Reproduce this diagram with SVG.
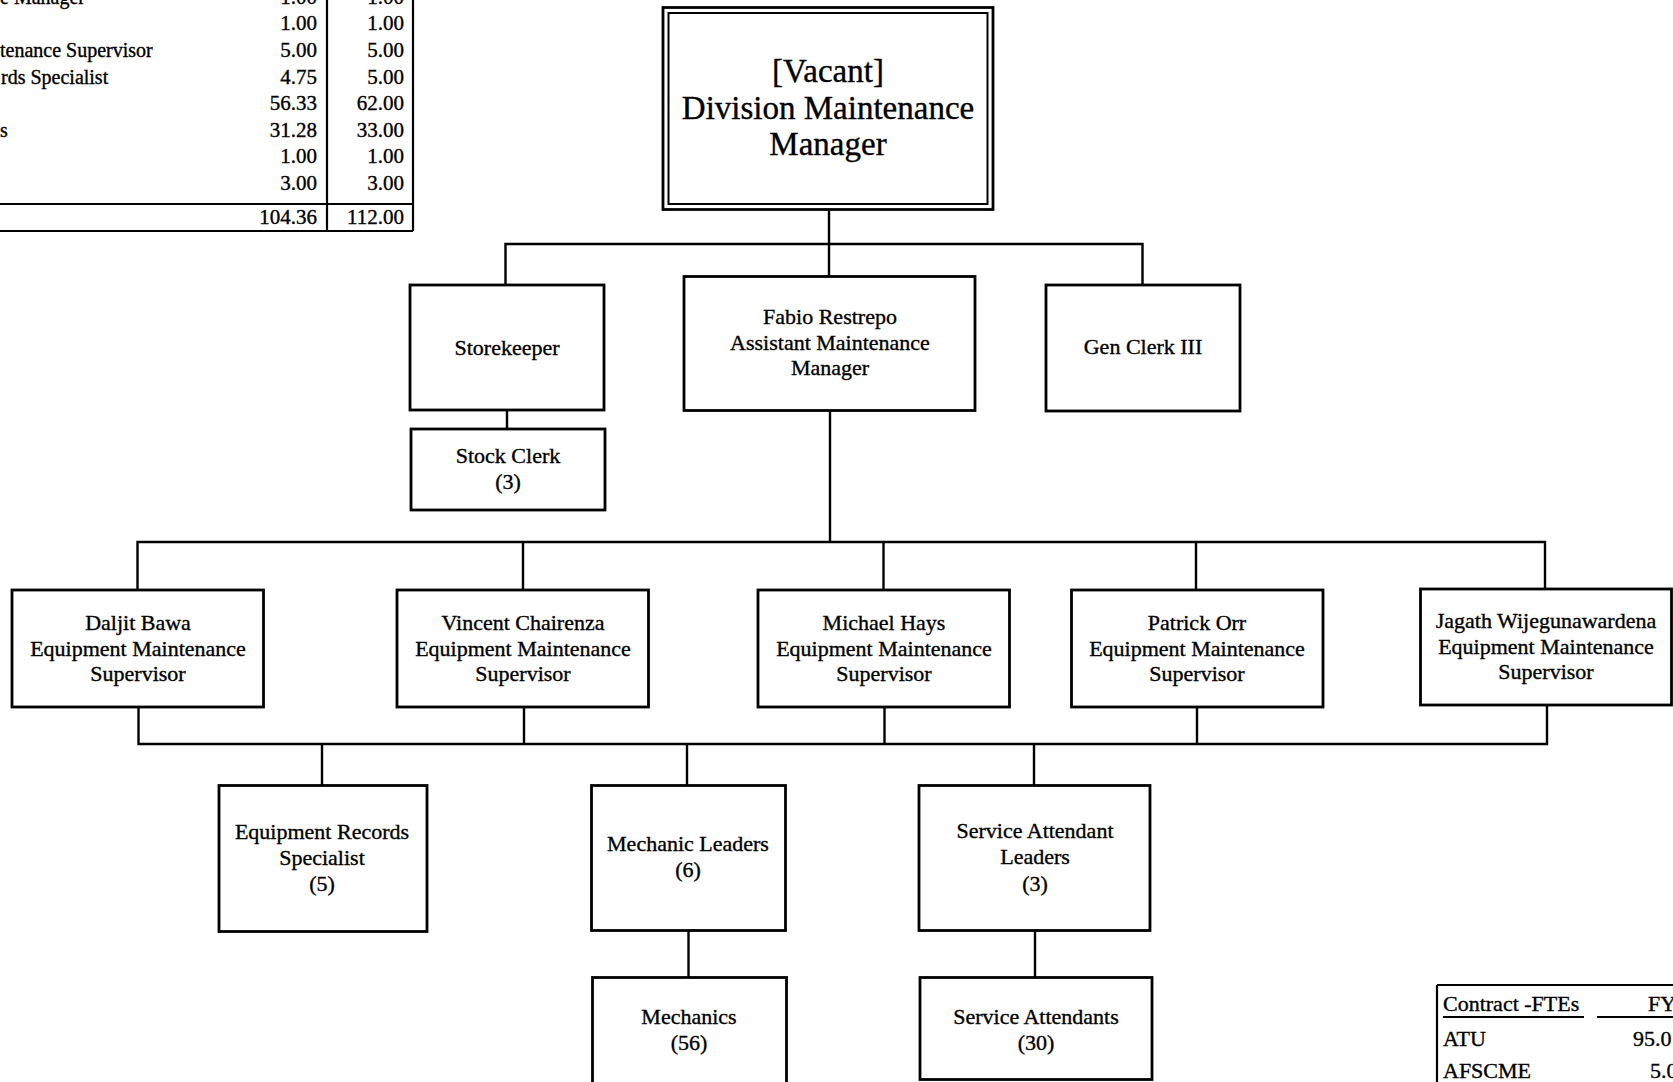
<svg xmlns="http://www.w3.org/2000/svg" width="1673" height="1082" viewBox="0 0 1673 1082">
<style>
text{font-family:"Liberation Serif","Times New Roman",serif;fill:#000;stroke:#000;stroke-width:0.35}
.n{font-size:22px;text-anchor:middle}
.t{font-size:21px}
.l{font-size:20px}
.c{font-size:22px}
.r{font-size:21px;text-anchor:end}
.big{font-size:33px;text-anchor:middle}
.box{fill:#fff;stroke:#000;stroke-width:2.8}
.ln{stroke:#000;stroke-width:2.4;fill:none}
.tb{stroke:#000;stroke-width:2.2;fill:none}
</style>
<rect width="1673" height="1082" fill="#fff"/>

<g id="fte-table">
<line class="tb" x1="327" y1="0" x2="327" y2="231"/>
<line class="tb" x1="413" y1="0" x2="413" y2="231"/>
<line class="tb" x1="0" y1="204" x2="413" y2="204"/>
<line class="tb" x1="0" y1="231" x2="413" y2="231"/>
<text class="l" x="0" y="4">e Manager</text>
<text class="l" x="0" y="57">tenance Supervisor</text>
<text class="l" x="1" y="84">rds Specialist</text>
<text class="l" x="0" y="137">s</text>
<text class="r" x="317" y="4">1.00</text><text class="r" x="404" y="4">1.00</text>
<text class="r" x="317" y="30">1.00</text><text class="r" x="404" y="30">1.00</text>
<text class="r" x="317" y="57">5.00</text><text class="r" x="404" y="57">5.00</text>
<text class="r" x="317" y="84">4.75</text><text class="r" x="404" y="84">5.00</text>
<text class="r" x="317" y="110">56.33</text><text class="r" x="404" y="110">62.00</text>
<text class="r" x="317" y="137">31.28</text><text class="r" x="404" y="137">33.00</text>
<text class="r" x="317" y="163">1.00</text><text class="r" x="404" y="163">1.00</text>
<text class="r" x="317" y="190">3.00</text><text class="r" x="404" y="190">3.00</text>
<text class="r" x="317" y="224">104.36</text><text class="r" x="404" y="224">112.00</text>
</g>

<g id="contract-table">
<line class="tb" x1="1437" y1="985" x2="1673" y2="985"/>
<line class="tb" x1="1437" y1="985" x2="1437" y2="1082"/>
<text class="c" x="1443" y="1011">Contract -FTEs</text>
<line stroke="#000" stroke-width="1.8" x1="1443" y1="1017" x2="1584" y2="1017"/>
<line stroke="#000" stroke-width="1.8" x1="1597" y1="1017" x2="1673" y2="1017"/>
<text class="c" x="1648" y="1011">FY</text>
<text class="c" x="1443" y="1046">ATU</text>
<text class="c" x="1633" y="1046">95.0</text>
<text class="c" x="1443" y="1078">AFSCME</text>
<text class="c" x="1650" y="1078">5.0</text>
</g>

<g id="connectors">
<polyline class="ln" points="829,209 829,244"/>
<polyline class="ln" points="505.5,285 505.5,244 1142.5,244 1142.5,285"/>
<polyline class="ln" points="829,244 829,276"/>
<polyline class="ln" points="507,410 507,429"/>
<polyline class="ln" points="830,411 830,542"/>
<polyline class="ln" points="137.5,590 137.5,542 1545,542 1545,589"/>
<polyline class="ln" points="523,542 523,590"/>
<polyline class="ln" points="883.5,542 883.5,590"/>
<polyline class="ln" points="1196,542 1196,590"/>
<polyline class="ln" points="138.5,707 138.5,744 1547,744 1547,705"/>
<polyline class="ln" points="524,707 524,744"/>
<polyline class="ln" points="884.5,707 884.5,744"/>
<polyline class="ln" points="1197,707 1197,744"/>
<polyline class="ln" points="322,744 322,785"/>
<polyline class="ln" points="687,744 687,785"/>
<polyline class="ln" points="1034,744 1034,785"/>
<polyline class="ln" points="688.5,930 688.5,977"/>
<polyline class="ln" points="1035,930 1035,977"/>
</g>

<g id="division-maintenance-manager">
<rect x="663" y="7.5" width="330" height="202" fill="#fff" stroke="#000" stroke-width="2.8"/>
<rect x="668.5" y="13" width="319" height="191" fill="none" stroke="#000" stroke-width="2"/>
<text class="big" x="828" y="82">[Vacant]</text>
<text class="big" x="828" y="119">Division Maintenance</text>
<text class="big" x="828" y="155">Manager</text>
</g>

<g id="storekeeper">
<rect class="box" x="410" y="285" width="194" height="125"/>
<text class="n" x="507" y="355">Storekeeper</text>
</g>
<g id="stock-clerk">
<rect class="box" x="411" y="429" width="194" height="81"/>
<text class="n" x="508" y="463">Stock Clerk</text>
<text class="n" x="508" y="489">(3)</text>
</g>
<g id="assistant-maintenance-manager">
<rect class="box" x="684" y="276.5" width="291" height="134"/>
<text class="n" x="830" y="324">Fabio Restrepo</text>
<text class="n" x="830" y="350">Assistant Maintenance</text>
<text class="n" x="830" y="375">Manager</text>
</g>
<g id="gen-clerk">
<rect class="box" x="1046" y="285" width="194" height="126"/>
<text class="n" x="1143" y="354">Gen Clerk III</text>
</g>

<g id="sup-bawa">
<rect class="box" x="12" y="590" width="251.5" height="117"/>
<text class="n" x="138" y="630">Daljit Bawa</text>
<text class="n" x="138" y="656">Equipment Maintenance</text>
<text class="n" x="138" y="681">Supervisor</text>
</g>
<g id="sup-chairenza">
<rect class="box" x="397" y="590" width="251.5" height="117"/>
<text class="n" x="523" y="630">Vincent Chairenza</text>
<text class="n" x="523" y="656">Equipment Maintenance</text>
<text class="n" x="523" y="681">Supervisor</text>
</g>
<g id="sup-hays">
<rect class="box" x="758" y="590" width="251.5" height="117"/>
<text class="n" x="884" y="630">Michael Hays</text>
<text class="n" x="884" y="656">Equipment Maintenance</text>
<text class="n" x="884" y="681">Supervisor</text>
</g>
<g id="sup-orr">
<rect class="box" x="1071.5" y="590" width="251.5" height="117"/>
<text class="n" x="1197" y="630">Patrick Orr</text>
<text class="n" x="1197" y="656">Equipment Maintenance</text>
<text class="n" x="1197" y="681">Supervisor</text>
</g>
<g id="sup-wijegunawardena">
<rect class="box" x="1420.5" y="589" width="251" height="116"/>
<text class="n" x="1546" y="628">Jagath Wijegunawardena</text>
<text class="n" x="1546" y="654">Equipment Maintenance</text>
<text class="n" x="1546" y="679">Supervisor</text>
</g>

<g id="equipment-records-specialist">
<rect class="box" x="219" y="785.5" width="208" height="146"/>
<text class="n" x="322" y="839">Equipment Records</text>
<text class="n" x="322" y="865">Specialist</text>
<text class="n" x="322" y="891">(5)</text>
</g>
<g id="mechanic-leaders">
<rect class="box" x="591.5" y="785.5" width="194" height="145"/>
<text class="n" x="688" y="851">Mechanic Leaders</text>
<text class="n" x="688" y="877">(6)</text>
</g>
<g id="service-attendant-leaders">
<rect class="box" x="919" y="785.5" width="231" height="145"/>
<text class="n" x="1035" y="838">Service Attendant</text>
<text class="n" x="1035" y="864">Leaders</text>
<text class="n" x="1035" y="891">(3)</text>
</g>
<g id="mechanics">
<rect class="box" x="592.5" y="977.5" width="194" height="120"/>
<text class="n" x="689" y="1024">Mechanics</text>
<text class="n" x="689" y="1050">(56)</text>
</g>
<g id="service-attendants">
<rect class="box" x="920" y="977.5" width="232" height="102"/>
<text class="n" x="1036" y="1024">Service Attendants</text>
<text class="n" x="1036" y="1050">(30)</text>
</g>
</svg>
